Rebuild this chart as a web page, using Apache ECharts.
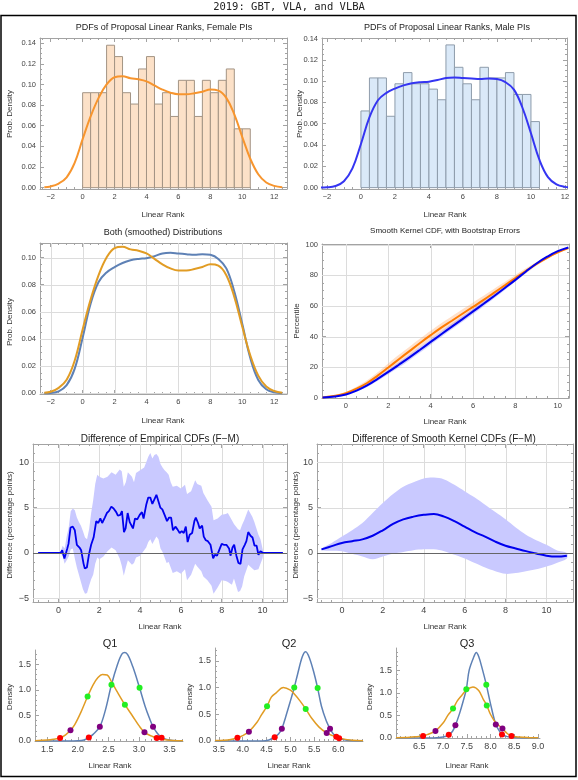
<!DOCTYPE html>
<html>
<head>
<meta charset="utf-8">
<script src="https://cdn.jsdelivr.net/npm/echarts@6/dist/echarts.min.js"></script>
<style>
  html, body { margin: 0; padding: 0; background: #fff; }
  #main { width: 578px; height: 780px; }
</style>
</head>
<body>
<div id="main"></div>
<script>
const SANS = 'Liberation Sans, Arial, sans-serif';
const MONO = 'DejaVu Sans Mono, monospace';
const FRAME = '#a3a3a3';
const LABEL = '#444';
const GRIDC = '#dcdcdc';

// histograms, bin width 0.5
const binEdges = [0, 0.5, 1, 1.5, 2, 2.5, 3, 3.5, 4, 4.5, 5, 5.5, 6, 6.5, 7, 7.5, 8, 8.5, 9, 9.5, 10, 10.5];
const femaleHist = [0.092, 0.092, 0.092, 0.138, 0.127, 0.092, 0.081, 0.115, 0.127, 0.081, 0.092,
  0.069, 0.104, 0.104, 0.069, 0.104, 0.092, 0.104, 0.115, 0.057, 0.057];
const maleHist = [0.072, 0.103, 0.103, 0.067, 0.0975, 0.108, 0.0975, 0.0975, 0.0925, 0.0825, 0.134,
  0.113, 0.0975, 0.0825, 0.113, 0.103, 0.103, 0.108, 0.0875, 0.0875, 0.062];

// smoothed densities
const kdeX = [-2.4, -2, -1.5, -1, -0.5, 0, 0.5, 1, 1.5, 2, 2.5, 3, 3.5, 4, 4.5, 5, 5.5, 6, 6.5, 7,
  7.5, 8, 8.5, 9, 9.5, 10, 10.5, 11, 11.5, 12, 12.5];
const femaleKde = [0.0005, 0.0012, 0.004, 0.010, 0.024, 0.047, 0.069, 0.087, 0.100, 0.107, 0.108, 0.106,
  0.105, 0.103, 0.099, 0.095, 0.092, 0.0905, 0.0905, 0.0915, 0.093, 0.095, 0.094, 0.087, 0.071, 0.049,
  0.028, 0.013, 0.005, 0.0017, 0.0005];
const maleKde = [0.0001, 0.0003, 0.0015, 0.006, 0.018, 0.041, 0.066, 0.082, 0.089, 0.093, 0.096, 0.098,
  0.099, 0.0995, 0.101, 0.103, 0.1035, 0.103, 0.1025, 0.102, 0.1025, 0.102, 0.099, 0.092, 0.075, 0.051,
  0.026, 0.0098, 0.003, 0.0007, 0.0001];

// smooth kernel CDFs with bootstrap bands
const cdfX = [-1.1, -0.5, 0, 0.5, 1, 1.5, 2, 2.5, 3, 3.5, 4, 4.5, 5, 5.5, 6, 6.5, 7, 7.5, 8, 8.5, 9, 9.5, 10, 10.5];
const cdfF = [0.4, 1.4, 3.2, 6.1, 9.8, 14.6, 19.9, 25.3, 30.6, 35.9, 41.0, 45.9, 50.4, 55.0, 59.5, 64.0,
  68.8, 73.5, 78.3, 83.0, 87.5, 91.5, 95.0, 97.8];
const cdfFLo = [0.3, 1.0, 2.4, 4.8, 8.0, 12.4, 17.3, 22.4, 27.7, 33.0, 38.1, 43.0, 47.5, 52.1, 56.6, 61.3,
  66.3, 71.3, 76.4, 81.4, 86.3, 90.7, 94.5, 97.6];
const cdfFHi = [0.5, 1.8, 4.0, 7.4, 11.6, 16.8, 22.5, 28.2, 33.5, 38.8, 43.9, 48.8, 53.3, 57.9, 62.4, 66.7,
  71.3, 75.7, 80.2, 84.6, 88.7, 92.3, 95.5, 98.0];
const cdfM = [0.3, 1.0, 2.3, 4.8, 8.2, 12.5, 17.0, 21.7, 26.5, 31.5, 36.6, 41.6, 46.6, 51.5, 56.5, 61.5,
  66.6, 71.8, 77.1, 82.6, 87.8, 92.2, 95.8, 98.2];
const cdfMLo = [0.2, 0.7, 1.8, 4.0, 7.1, 11.2, 15.5, 20.0, 24.7, 29.7, 34.8, 39.8, 44.8, 49.7, 54.8, 59.9,
  65.1, 70.5, 76.0, 81.6, 87.0, 91.7, 95.5, 98.1];
const cdfMHi = [0.4, 1.3, 2.8, 5.6, 9.3, 13.8, 18.5, 23.4, 28.3, 33.3, 38.4, 43.4, 48.4, 53.3, 58.2, 63.1,
  68.1, 73.1, 78.2, 83.6, 88.6, 92.7, 96.1, 98.3];

// difference of empirical CDFs (F-M)
const empX = [-1.0, 0.1, 0.18, 0.29, 0.43, 0.49, 0.59, 0.70, 0.80, 0.90,
  1.03, 1.11, 1.23, 1.29, 1.39, 1.49, 1.60, 1.72, 1.85, 1.95,
  2.05, 2.14, 2.27, 2.37, 2.47, 2.59, 2.70, 2.83, 2.91, 3.03,
  3.11, 3.21, 3.29, 3.39, 3.49, 3.57, 3.65, 3.75, 3.86, 3.98,
  4.09, 4.17, 4.30, 4.40, 4.50, 4.60, 4.70, 4.80, 4.89, 4.99,
  5.09, 5.20, 5.32, 5.42, 5.52, 5.61, 5.73, 5.83, 5.94, 6.04,
  6.14, 6.24, 6.33, 6.43, 6.55, 6.66, 6.73, 6.84, 6.92, 7.04,
  7.12, 7.22, 7.32, 7.45, 7.58, 7.66, 7.77, 7.91, 8.00, 8.10,
  8.23, 8.36, 8.43, 8.53, 8.61, 8.72, 8.82, 8.92, 9.02, 9.13,
  9.21, 9.30, 9.41, 9.51, 9.61, 9.71, 9.80, 9.90, 10.03, 11.0];
const empY = [0, 0, 0.3, -0.6, 0.5, 1.0, 2.8, 2.9, 2.5, 0.9,
  0.6, 0.3, -1.2, -1.7, -1.6, -0.2, 0.9, 1.7, 3.5, 3.3,
  3.8, 3.3, 3.9, 4.4, 4.6, 5.1, 4.9, 4.5, 4.1, 4.2,
  4.6, 2.3, 2.7, 4.4, 3.4, 3.6, 2.7, 3.8, 3.7, 4.2,
  4.5, 3.8, 5.3, 6.1, 6.1, 5.4, 5.9, 6.4, 6.2, 5.0,
  4.8, 4.2, 3.5, 3.9, 3.9, 2.5, 2.9, 2.6, 2.2, 2.4,
  2.2, 2.9, 1.2, 2.0, 2.2, 3.5, 3.9, 3.3, 2.7, 3.0,
  1.8, 1.4, 1.3, 0.9, -0.6, -0.2, -0.3, 0.5, 1.0, 0.9,
  0.9, 0.5, -0.3, 0.6, 0.9, -0.3, -1.1, -1.2, 0.4, 0.9,
  1.3, 2.3, 1.9, 1.7, 0.8, 0.8, -0.2, 0.2, 0, 0];
const empBandX = [-1.0, 0.1, 0.2, 0.3, 0.4, 0.5, 0.6, 0.7, 0.8, 0.9,
  1.0, 1.1, 1.2, 1.3, 1.4, 1.5, 1.6, 1.7, 1.8, 1.9,
  2.0, 2.2, 2.4, 2.6, 2.8, 3.0, 3.1, 3.2, 3.3, 3.4,
  3.6, 3.7, 3.8, 4.0, 4.2, 4.3, 4.4, 4.5, 4.6, 4.7,
  4.8, 4.9, 5.0, 5.1, 5.2, 5.3, 5.4, 5.5, 5.6, 5.8,
  6.0, 6.2, 6.3, 6.5, 6.7, 6.8, 7.0, 7.1, 7.3, 7.5,
  7.6, 7.8, 8.0, 8.2, 8.3, 8.5, 8.6, 8.8, 8.9, 9.0,
  9.1, 9.3, 9.5, 9.6, 9.8, 9.9, 10.0, 10.05, 11.0];
const empBandHi = [0, 0, 0.8, 0.5, 1.8, 2.8, 4.6, 4.9, 4.7, 3.9,
  3.4, 3.0, 2.4, 1.7, 1.5, 2.6, 4.4, 5.8, 7.6, 8.6,
  8.4, 8.2, 8.4, 8.9, 8.6, 9.2, 9.0, 7.3, 7.8, 8.9,
  8.4, 7.8, 8.8, 9.1, 9.4, 10.0, 10.6, 11.0, 10.4, 10.8,
  10.9, 10.6, 9.8, 9.4, 9.1, 8.9, 8.6, 7.8, 7.3, 7.4,
  7.1, 7.5, 6.5, 6.8, 8.0, 7.6, 7.4, 6.6, 5.8, 5.1,
  3.6, 3.8, 4.2, 4.3, 4.4, 3.6, 3.2, 2.6, 2.5, 3.1,
  3.6, 4.8, 4.0, 3.4, 2.0, 1.5, 0.5, 0, 0];
const empBandLo = [0, 0, -0.3, -1.2, -0.8, -0.4, 0.4, 0.5, -0.6, -1.6,
  -2.4, -3.2, -4.0, -4.5, -4.4, -3.6, -2.9, -2.4, -1.2, -0.5,
  -0.7, -0.4, 0.2, 0.6, 0.3, -0.6, -1.4, -2.5, -1.6, -0.8,
  -1.3, -1.1, -0.5, -0.3, 0.3, 0.6, 1.2, 1.5, 1.0, 1.4,
  1.8, 1.5, 0.5, 0.1, -0.5, -1.1, -1.0, -1.6, -2.2, -2.0,
  -2.3, -1.8, -3.0, -2.4, -1.2, -1.5, -2.0, -2.6, -3.0, -3.6,
  -4.5, -3.8, -3.0, -3.1, -3.2, -3.5, -2.8, -4.3, -4.2, -3.7,
  -2.6, -1.3, -1.7, -1.9, -1.8, -1.2, -0.6, 0, 0];

// difference of smooth kernel CDFs (F-M)
const smX = [-1, -0.5, 0, 0.5, 1, 1.5, 2, 2.5, 3, 3.5, 4, 4.5, 5, 5.5, 6, 6.5, 7, 7.5, 8, 8.5, 9, 9.5, 10, 10.5, 11];
const smY = [0.4, 0.75, 1.1, 1.3, 1.5, 1.9, 2.5, 3.2, 3.7, 4.0, 4.2, 4.3, 4.0, 3.5, 2.9, 2.3, 1.8, 1.25,
  0.8, 0.5, 0.2, -0.05, -0.3, -0.4, -0.3];
const smHi = [0.5, 1.1, 1.8, 2.5, 3.3, 4.4, 5.5, 6.5, 7.3, 7.8, 8.2, 8.3, 8.1, 7.5, 6.8, 6.1, 5.3, 4.5,
  3.7, 2.8, 2.0, 1.4, 0.9, 0.3, 0.0];
const smLo = [0.3, 0.25, 0.2, -0.1, -0.4, -0.7, -0.4, -0.1, 0.1, 0.3, 0.4, 0.4, 0.2, -0.2, -0.6, -1.1,
  -1.6, -2.0, -2.3, -2.2, -2.0, -1.8, -1.5, -1.1, -0.6];

// quartile bootstrap densities
const q1MX = [1.3, 1.8, 2.0, 2.1, 2.18, 2.25, 2.36, 2.45, 2.55, 2.65, 2.72, 2.77, 2.82, 2.9, 3.01, 3.1,
  3.17, 3.23, 3.3, 3.37, 3.45, 3.55, 3.72];
const q1MY = [0, 0.001, 0.005, 0.02, 0.07, 0.13, 0.28, 0.6, 1.1, 1.5, 1.7, 1.73, 1.68, 1.45, 1.04, 0.68,
  0.45, 0.28, 0.15, 0.065, 0.03, 0.01, 0.001];
const q1FX = [1.3, 1.5, 1.6, 1.71, 1.8, 1.88, 1.95, 2.05, 2.16, 2.25, 2.33, 2.4, 2.48, 2.55, 2.65, 2.77,
  2.9, 3.0, 3.09, 3.2, 3.29, 3.4, 3.55, 3.72];
const q1FY = [0.005, 0.02, 0.035, 0.06, 0.12, 0.21, 0.32, 0.56, 0.87, 1.1, 1.24, 1.3, 1.29, 1.16, 0.95,
  0.71, 0.48, 0.3, 0.17, 0.1, 0.06, 0.03, 0.012, 0.004];
const q1Red = [[1.71, 0.06], [2.18, 0.07], [3.29, 0.06], [3.37, 0.065]];
const q1Purple = [[1.88, 0.21], [2.36, 0.28], [3.09, 0.17], [3.23, 0.28]];
const q1Green = [[2.16, 0.87], [2.55, 1.1], [2.77, 0.71], [3.01, 1.04]];

const q2MX = [3.42, 4.2, 4.4, 4.55, 4.67, 4.75, 4.82, 4.9, 5.0, 5.08, 5.15, 5.25, 5.32, 5.4, 5.5, 5.57,
  5.65, 5.75, 5.83, 5.9, 6.02, 6.1, 6.3, 6.52];
const q2MY = [0, 0, 0.002, 0.02, 0.07, 0.13, 0.23, 0.45, 0.75, 1.0, 1.25, 1.58, 1.67, 1.55, 1.25, 0.99,
  0.65, 0.38, 0.23, 0.13, 0.05, 0.03, 0.005, 0];
const q2FX = [3.42, 3.6, 3.75, 3.89, 4.0, 4.13, 4.3, 4.4, 4.51, 4.6, 4.7, 4.85, 5.0, 5.1, 5.2, 5.32, 5.45,
  5.6, 5.76, 5.88, 5.96, 6.1, 6.3, 6.52];
const q2FY = [0.008, 0.015, 0.03, 0.06, 0.1, 0.175, 0.35, 0.5, 0.65, 0.82, 0.9, 1.0, 0.95, 0.86, 0.75,
  0.6, 0.42, 0.26, 0.15, 0.1, 0.08, 0.04, 0.015, 0.005];
const q2Red = [[3.89, 0.06], [4.67, 0.07], [5.96, 0.08], [6.02, 0.05]];
const q2Purple = [[4.13, 0.175], [4.82, 0.23], [5.76, 0.15], [5.83, 0.23]];
const q2Green = [[4.51, 0.65], [5.08, 1.0], [5.32, 0.6], [5.57, 0.99]];

const q3MX = [6.01, 6.6, 6.8, 7.0, 7.12, 7.2, 7.26, 7.35, 7.42, 7.49, 7.55, 7.65, 7.70, 7.75, 7.82, 7.91,
  8.0, 8.11, 8.2, 8.24, 8.35, 8.5, 8.7, 9.0];
const q3MY = [0, 0, 0.002, 0.02, 0.07, 0.15, 0.28, 0.55, 0.8, 1.08, 1.5, 1.8, 1.89, 1.8, 1.55, 1.18,
  0.75, 0.3, 0.13, 0.08, 0.03, 0.01, 0.002, 0];
const q3FX = [6.01, 6.3, 6.45, 6.58, 6.7, 6.84, 7.0, 7.1, 7.21, 7.3, 7.4, 7.5, 7.63, 7.75, 7.85, 7.92,
  8.0, 8.1, 8.25, 8.35, 8.44, 8.6, 8.8, 9.0];
const q3FY = [0.005, 0.015, 0.03, 0.045, 0.09, 0.155, 0.33, 0.5, 0.65, 0.82, 0.95, 1.07, 1.13, 1.05,
  0.85, 0.72, 0.52, 0.35, 0.21, 0.1, 0.045, 0.02, 0.008, 0.003];
const q3Red = [[6.58, 0.045], [7.12, 0.07], [8.24, 0.08], [8.44, 0.045]];
const q3Purple = [[6.84, 0.155], [7.26, 0.28], [8.11, 0.3], [8.25, 0.21]];
const q3Green = [[7.21, 0.65], [7.49, 1.08], [7.91, 1.18], [7.92, 0.72]];

// tick labels
const rankTicks = [-2, 0, 2, 4, 6, 8, 10, 12];
const densTicks = [0, 0.02, 0.04, 0.06, 0.08, 0.10, 0.12, 0.14];
const cdfRankTicks = [0, 2, 4, 6, 8, 10];
const pctTicks = [0, 20, 40, 60, 80, 100];
const diffTicks = [-5, 0, 5, 10];
const qDensTicks = [0, 0.5, 1.0, 1.5];
const q1Ticks = [1.5, 2.0, 2.5, 3.0, 3.5];
const q2Ticks = [3.5, 4.0, 4.5, 5.0, 5.5, 6.0];
const q3Ticks = [6.5, 7.0, 7.5, 8.0, 8.5, 9.0];

const grids = [], xAxes = [], yAxes = [], series = [], texts = [];

function steps(a, b, s) {
  const out = [];
  for (let v = a; v <= b + 1e-9; v += s) out.push(+v.toFixed(4));
  return out;
}
const signed = v => (v < 0 ? '\u2212' + (-v) : String(v));
const fix1 = v => v.toFixed(1);
const fix2 = v => v.toFixed(2);

function addGrid(left, top, width, height) {
  grids.push({ left, top, width, height, containLabel: false, outerBoundsMode: 'none', show: false });
  return grids.length - 1;
}

function addAxes(gi, dim, min, max, major, minor, fmt, o) {
  const arr = dim === 'x' ? xAxes : yAxes;
  const pos = dim === 'x' ? ['bottom', 'top'] : ['left', 'right'];
  const base = () => ({
    type: 'value', gridIndex: gi, min, max, silent: true,
    axisLine: { show: false, onZero: false },
    axisLabel: { show: false }, axisTick: { show: false }, splitLine: { show: false }
  });
  const idx = arr.length;
  const main = base();
  main.position = pos[0];
  main.axisLine = { show: true, onZero: false, lineStyle: { color: FRAME, width: 1 } };
  main.axisLabel = { show: true, customValues: major, formatter: fmt, color: LABEL,
    fontSize: o.fs, fontFamily: SANS, margin: o.margin || 4 };
  main.axisTick = { show: true, inside: true, length: 4, customValues: major, lineStyle: { color: FRAME } };
  arr.push(main);
  const mn = base();
  mn.position = pos[0];
  mn.axisTick = { show: true, inside: true, length: 2, customValues: minor, lineStyle: { color: FRAME } };
  arr.push(mn);
  if (o.frame) {
    const m2 = base();
    m2.position = pos[1];
    m2.axisLine = { show: true, onZero: false, lineStyle: { color: FRAME, width: 1 } };
    m2.axisTick = { show: true, inside: true, length: 4, customValues: major, lineStyle: { color: FRAME } };
    arr.push(m2);
    const m3 = base();
    m3.position = pos[1];
    m3.axisTick = { show: true, inside: true, length: 2, customValues: minor, lineStyle: { color: FRAME } };
    arr.push(m3);
  }
  return idx;
}

// light grid lines at the major ticks, drawn beneath the data
function gridLines(xi, yi, xs, ys, xr, yr) {
  return { type: 'custom', xAxisIndex: xi, yAxisIndex: yi, silent: true, z: 1,
    data: [[xs[0], ys[0]]],
    renderItem: function (params, api) {
      const children = [];
      const crisp = v => Math.round(v) + 0.5;
      xs.forEach(x => {
        const a = api.coord([x, yr[0]]), b = api.coord([x, yr[1]]);
        children.push({ type: 'line', shape: { x1: crisp(a[0]), y1: a[1], x2: crisp(a[0]), y2: b[1] },
          style: { stroke: GRIDC, lineWidth: 1 } });
      });
      ys.forEach(y => {
        const a = api.coord([xr[0], y]), b = api.coord([xr[1], y]);
        children.push({ type: 'line', shape: { x1: a[0], y1: crisp(a[1]), x2: b[0], y2: crisp(a[1]) },
          style: { stroke: GRIDC, lineWidth: 1 } });
      });
      return { type: 'group', children };
    } };
}

function barItem(fill, stroke) {
  return function (params, api) {
    const p0 = api.coord([api.value(0), api.value(2)]);
    const p1 = api.coord([api.value(1), 0]);
    return { type: 'rect', shape: { x: p0[0], y: p0[1], width: p1[0] - p0[0], height: p1[1] - p0[1] },
      style: { fill, stroke, lineWidth: 1 } };
  };
}
function bars(xi, yi, hist, fill, stroke) {
  return { type: 'custom', xAxisIndex: xi, yAxisIndex: yi, silent: true,
    dimensions: ['x0', 'x1', 'h'], encode: { x: [0, 1], y: 2 },
    data: hist.map((h, i) => [binEdges[i], binEdges[i + 1], h]),
    renderItem: barItem(fill, stroke) };
}
function band(xi, yi, xs, lo, hi, fill, smooth) {
  return { type: 'custom', xAxisIndex: xi, yAxisIndex: yi, silent: true,
    data: [[xs[0], lo[0]]],
    renderItem: function (params, api) {
      const pts = [];
      for (let i = 0; i < xs.length; i++) pts.push(api.coord([xs[i], hi[i]]));
      for (let i = xs.length - 1; i >= 0; i--) pts.push(api.coord([xs[i], lo[i]]));
      return { type: 'polygon', shape: { points: pts, smooth: smooth || 0 }, style: { fill } };
    } };
}
function line(xi, yi, xs, ys, color, width, smooth) {
  return { type: 'line', xAxisIndex: xi, yAxisIndex: yi, silent: true,
    data: xs.map((x, i) => [x, ys[i]]), smooth: smooth || false,
    showSymbol: false, symbol: 'none', lineStyle: { color, width } };
}
function dots(xi, yi, pts, color) {
  return { type: 'scatter', xAxisIndex: xi, yAxisIndex: yi, silent: true, z: 5,
    data: pts, symbolSize: 6, itemStyle: { color, opacity: 1 } };
}
function txt(text, x, y, size, rot, font, color) {
  texts.push({ type: 'text', x, y, rotation: rot ? Math.PI / 2 : 0, silent: true,
    style: { text, fill: color || '#222', fontSize: size, fontFamily: font || SANS,
      align: 'center', verticalAlign: 'middle' } });
}

// A: female histogram
let g = addGrid(40, 38, 247, 151);
let ax = addAxes(g, 'x', -2.67, 12.8, rankTicks, steps(-2.5, 12.5, 0.5), signed, { frame: true, fs: 7.5 });
let ay = addAxes(g, 'y', -0.0013, 0.145, densTicks, steps(0, 0.145, 0.005), fix2, { frame: true, fs: 7.5 });
series.push(bars(ax, ay, femaleHist, '#fce1c8', '#a39484'));
series.push(line(ax, ay, kdeX, femaleKde, '#f7952e', 2, 0.4));
txt('PDFs of Proposal Linear Ranks, Female PIs', 164, 28, 9);
txt('Linear Rank', 163, 215, 8, false, SANS, '#333');
txt('Prob. Density', 10, 114, 8, true, SANS, '#333');

// B: male histogram
g = addGrid(322, 38, 245, 151);
ax = addAxes(g, 'x', -2.29, 12.12, rankTicks, steps(-2, 12, 0.5), signed, { frame: true, fs: 7.5 });
ay = addAxes(g, 'y', -0.0013, 0.1405, densTicks, steps(0, 0.14, 0.005), fix2, { frame: true, fs: 7.5 });
series.push(bars(ax, ay, maleHist, '#dae9f8', '#8e9cab'));
series.push(line(ax, ay, kdeX, maleKde, '#3535f2', 2, 0.4));
txt('PDFs of Proposal Linear Ranks, Male PIs', 447, 28, 9);
txt('Linear Rank', 445, 215, 8, false, SANS, '#333');
txt('Prob. Density', 300, 114, 8, true, SANS, '#333');

// C: both smoothed distributions
g = addGrid(40, 243, 247, 151);
ax = addAxes(g, 'x', -2.67, 12.8, rankTicks, steps(-2.5, 12.5, 0.5), signed, { frame: true, fs: 7.5 });
ay = addAxes(g, 'y', -0.0005, 0.1107, densTicks.slice(0, 6), steps(0, 0.11, 0.005), fix2, { frame: true, fs: 7.5 });
series.push(gridLines(ax, ay, rankTicks, densTicks.slice(0, 6), [-2.67, 12.8], [-0.0005, 0.1107]));
series.push(line(ax, ay, kdeX, maleKde, '#5e81b5', 2, 0.4));
series.push(line(ax, ay, kdeX, femaleKde, '#e19c24', 2, 0.4));
txt('Both (smoothed) Distributions', 163, 233, 9);
txt('Linear Rank', 163, 421, 8, false, SANS, '#333');
txt('Prob. Density', 10, 322, 8, true, SANS, '#333');

// D: smooth kernel CDFs
g = addGrid(322, 244, 247, 154);
ax = addAxes(g, 'x', -1.13, 10.53, cdfRankTicks, steps(-1, 10.5, 0.5), signed, { frame: true, fs: 7.5 });
ay = addAxes(g, 'y', 0, 100.5, pctTicks, steps(0, 100, 5), String, { frame: true, fs: 7.5 });
series.push(gridLines(ax, ay, cdfRankTicks, pctTicks.slice(1), [-1.13, 10.53], [0, 100.5]));
series.push(band(ax, ay, cdfX, cdfFLo, cdfFHi, 'rgba(255,165,100,0.35)', 0.3));
series.push(band(ax, ay, cdfX, cdfMLo, cdfMHi, 'rgba(110,110,255,0.32)', 0.3));
series.push(line(ax, ay, cdfX, cdfF, '#ff7a00', 2, 0.4));
series.push(line(ax, ay, cdfX, cdfM, '#0000ee', 2, 0.4));
txt('Smooth Kernel CDF, with Bootstrap Errors', 445, 231, 8);
txt('Linear Rank', 445, 422, 8, false, SANS, '#333');
txt('Percentile', 297, 321, 8, true, SANS, '#333');

// E: difference of empirical CDFs
const zeroLine = { silent: true, symbol: ['none', 'none'], label: { show: false },
  lineStyle: { color: '#666', width: 1, type: 'solid' }, data: [{ yAxis: 0 }] };
g = addGrid(33, 444, 254, 158);
ax = addAxes(g, 'x', -1.25, 11.2, cdfRankTicks, steps(-1, 11, 0.5), signed, { frame: true, fs: 9 });
ay = addAxes(g, 'y', -5.4, 12.0, diffTicks, steps(-5, 12, 1), signed, { frame: true, fs: 9 });
series.push(gridLines(ax, ay, cdfRankTicks, diffTicks, [-1.25, 11.2], [-5.4, 12.0]));
series.push(band(ax, ay, empBandX, empBandLo, empBandHi, '#c9c9ff'));
let s = line(ax, ay, empX, empY, '#0000ee', 1.8);
s.markLine = zeroLine;
series.push(s);
txt('Difference of Empirical CDFs (F\u2212M)', 160, 439, 10);
txt('Linear Rank', 160, 627, 8, false, SANS, '#333');
txt('Difference (percentage points)', 10, 525, 8, true, SANS, '#333');

// F: difference of smooth kernel CDFs
g = addGrid(317, 444, 256, 158);
ax = addAxes(g, 'x', -1.22, 11.3, cdfRankTicks, steps(-1, 11, 0.5), signed, { frame: true, fs: 9 });
ay = addAxes(g, 'y', -5.4, 12.0, diffTicks, steps(-5, 12, 1), signed, { frame: true, fs: 9 });
series.push(gridLines(ax, ay, cdfRankTicks, diffTicks, [-1.22, 11.3], [-5.4, 12.0]));
series.push(band(ax, ay, smX, smLo, smHi, '#c9c9ff', 0.3));
s = line(ax, ay, smX, smY, '#0000ee', 2, 0.4);
s.markLine = zeroLine;
series.push(s);
txt('Difference of Smooth Kernel CDFs (F\u2212M)', 444, 439, 10);
txt('Linear Rank', 445, 627, 8, false, SANS, '#333');
txt('Difference (percentage points)', 296, 525, 8, true, SANS, '#333');

// Q panels
function qPanel(box, xr, yr, ticks, mx, my, fx, fy, red, purple, green, title, tx, dx) {
  const gi = addGrid(box[0], box[1], box[2], box[3]);
  const xi = addAxes(gi, 'x', xr[0], xr[1], ticks, steps(ticks[0] - 0.4, xr[1], 0.1), fix1, { fs: 9 });
  const yi = addAxes(gi, 'y', yr[0], yr[1], qDensTicks, steps(0, yr[1], 0.1), fix1, { fs: 9 });
  series.push(line(xi, yi, mx, my, '#5e81b5', 1.5, 0.35));
  series.push(line(xi, yi, fx, fy, '#e19c24', 1.5, 0.35));
  series.push(dots(xi, yi, red, '#ff0000'));
  series.push(dots(xi, yi, purple, '#800080'));
  series.push(dots(xi, yi, green, '#22ee22'));
  txt(title, tx, 644, 11);
  txt('Linear Rank', tx, 766, 8, false, SANS, '#333');
  txt('Density', dx, 697, 8, true, SANS, '#333');
}
qPanel([35, 650, 148, 91], [1.3, 3.72], [0, 1.78], q1Ticks, q1MX, q1MY, q1FX, q1FY,
  q1Red, q1Purple, q1Green, 'Q1', 110, 10);
qPanel([215, 648, 148, 93], [3.42, 6.52], [0, 1.74], q2Ticks, q2MX, q2MY, q2FX, q2FY,
  q2Red, q2Purple, q2Green, 'Q2', 289, 190);
qPanel([396, 648, 144, 90], [6.01, 9.04], [0, 1.99], q3Ticks, q3MX, q3MY, q3FX, q3FY,
  q3Red, q3Purple, q3Green, 'Q3', 467, 370);

// page title and outer frame
txt('2019: GBT, VLA, and VLBA', 289, 7, 10.5, false, MONO, '#222');
texts.push({ type: 'rect', silent: true, shape: { x: 1, y: 15.5, width: 575, height: 761 },
  style: { fill: 'none', stroke: '#000', lineWidth: 1.5 } });

const chart = echarts.init(document.getElementById('main'), null, { renderer: 'canvas' });
chart.setOption({
  animation: false,
  backgroundColor: '#fff',
  grid: grids,
  xAxis: xAxes,
  yAxis: yAxes,
  series: series,
  graphic: texts
});
</script>
</body>
</html>
